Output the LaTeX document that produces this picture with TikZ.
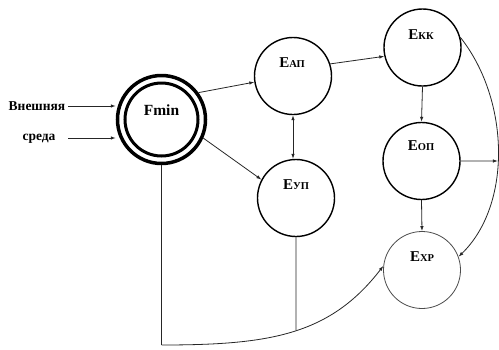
\documentclass[tikz,border=0pt]{standalone}
\usepackage{fontspec}
\setmainfont{Liberation Serif}
\newfontfamily\tnr{Liberation Serif}
\usetikzlibrary{arrows.meta,intersections}
\newcommand{\smallpart}[1]{{\fontsize{10.5}{10.5}\selectfont #1}}
\begin{document}
\begin{tikzpicture}[x=1pt,y=-1pt,
  state/.style={circle,draw=black,line width=1.4pt,minimum size=77pt,inner sep=0pt},
  lab/.style={font=\tnr\bfseries\fontsize{15}{15}\selectfont,inner sep=0pt},
  txt/.style={font=\tnr\bfseries\fontsize{13.5}{13.5}\selectfont,inner sep=0pt},
  conn/.style={draw=black!85,line width=0.8pt},
  arr/.style={conn,-{Latex[length=5pt,width=3.5pt]}},
  darr/.style={conn,{Latex[length=5pt,width=3.5pt]}-{Latex[length=5pt,width=3.5pt]}},
]
\useasboundingbox (0,0) rectangle (499,349);
\fill[white] (0,0) rectangle (499,349);

% Fmin double ring
\node[circle,draw=black,line width=3.5pt,minimum size=88pt,inner sep=0pt] (Fmin) at (161.5,119.5) {};
\node[circle,draw=black,line width=3pt,minimum size=73pt,inner sep=0pt] (Fin) at (161.5,119.5) {};
\node[font=\tnr\bfseries\fontsize{15.5}{15.5}\selectfont,inner sep=0pt] (Ft) at (161.5,110) {Fmin};

% states
\node[state] (Eap) at (293,76) {};
\node[state] (Eyp) at (296,198) {};
\node[state] (Ekk) at (422.5,47.5) {};
\node[state] (Eop) at (421.5,161) {};
\node[state,draw=black!70,line width=0.8pt] (Exp) at (422,270) {};

\node[lab] (Eapt) at (292,63) {Е\smallpart{АП}};
\node[lab] (Eypt) at (296,185) {Е\smallpart{УП}};
\node[lab] (Ekkt) at (421,35) {Е\smallpart{КК}};
\node[lab] (Eopt) at (421,146) {Е\smallpart{ОП}};
\node[lab] (Expt) at (422,257) {Е\smallpart{ХР}};

% environment inputs
\node[txt] (vn) at (37,106) {Внешняя};
\node[txt] (sr) at (39,139) {среда};
\coordinate (a1) at (68,106);
\coordinate (a2) at (68,138);
\draw[arr] (a1) -- (a1 -| Fmin.west);
\draw[arr] (a2) -- (a2 -| Fmin.west);

% connectors
\draw[arr] (Fmin.36) -- (Eap.189);
\draw[arr] (Fmin.-24) -- (Eyp.152);
\draw[darr] (Eap.south) -- (Eap.south |- Eyp.north);
\draw[arr] (Eap.18) -- (Ekk.193);
\draw[arr] (Ekk.south) -- (Eop.north);
\draw[arr] (Eop.south) -- (Exp.north);

% right curve
\draw[arr,name path=rc] (Ekk.15) .. controls (510,100) and (512,205) .. (Exp.20);
\path[name path=hl] (Eop.east) -- ++(60,0);
\path[name intersections={of=rc and hl, by=J1}];
\draw[arr] (Eop.east) -- (J1);

% bottom curve
\coordinate (B1) at (161.5,345);
\draw[conn] (Fmin.south) -- (B1);
\draw[arr,name path=bc] (B1) .. controls (270,345) and (330,335) .. (Exp.174);
\path[name path=vl] (Eyp.south) -- ++(0,150);
\path[name intersections={of=bc and vl, by=J2}];
\draw[conn] (Eyp.south) -- (J2);
\end{tikzpicture}
\end{document}
